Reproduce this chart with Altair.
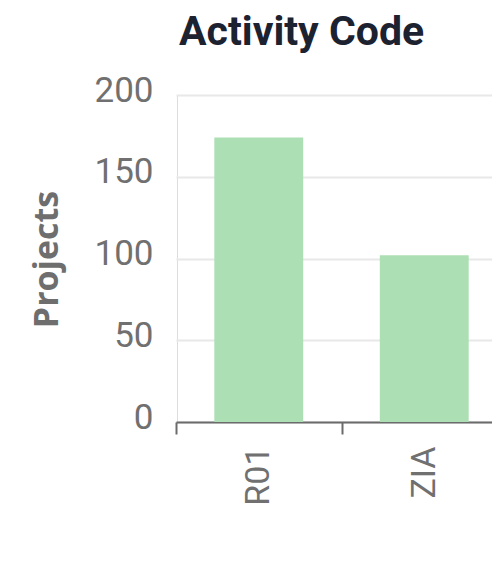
import altair as alt
import pandas as pd

codes = ["R01", "ZIA"]
projects = [174, 102]
y_ticks = [0, 50, 100, 150, 200]

df = pd.DataFrame({"code": codes, "projects": projects})

GREY = "#707070"
step_half = 82.75

chart = alt.Chart(df).mark_bar(color="#acdfb4").encode(
    x=alt.X(
        "code:N",
        sort=codes,
        scale=alt.Scale(range=[-1, 330], paddingInner=0.463, paddingOuter=0.2315, align=0.5),
        axis=alt.Axis(
            title=None,
            labelAngle=270,
            labelAlign="right",
            labelBaseline="middle",
            labelFont="Roboto",
            labelFontSize=34,
            labelColor=GREY,
            labelPadding=12,
            tickOffset=-step_half,
            labelOffset=step_half,
            tickSize=12,
            tickWidth=2,
            tickColor="#6b6b6b",
            domainColor="#6b6b6b",
            domainWidth=2,
            grid=False,
        ),
    ),
    y=alt.Y(
        "projects:Q",
        scale=alt.Scale(domain=[0, 200]),
        axis=alt.Axis(
            values=y_ticks,
            title="Projects",
            titleFont="Open Sans",
            titleFontSize=34,
            titleFontWeight="bold",
            titleColor="#6e6e6e",
            titleAngle=270,
            titleAlign="center",
            titleBaseline="middle",
            titleX=-130,
            titleY=164,
            labelFont="Roboto",
            labelFontSize=35,
            labelColor=GREY,
            labelPadding=24,
            labelOffset=-5,
            domain=False,
            ticks=False,
            gridColor="#e8e8e8",
            gridWidth=2,
        ),
    ),
).properties(
    width=315,
    height=327,
    autosize=alt.AutoSizeParams(type="none"),
    padding={"left": 169, "top": 87, "right": 0, "bottom": 146},
    title=alt.TitleParams(
        "Activity Code",
        anchor="start",
        frame="group",
        font="Roboto",
        fontSize=41,
        fontWeight="bold",
        color="#1c2230",
        offset=19,
        dx=2,
    ),
).configure_view(stroke=None).configure(background="white")

chart.save("out.html", embed_options={"renderer": "svg", "actions": False})
